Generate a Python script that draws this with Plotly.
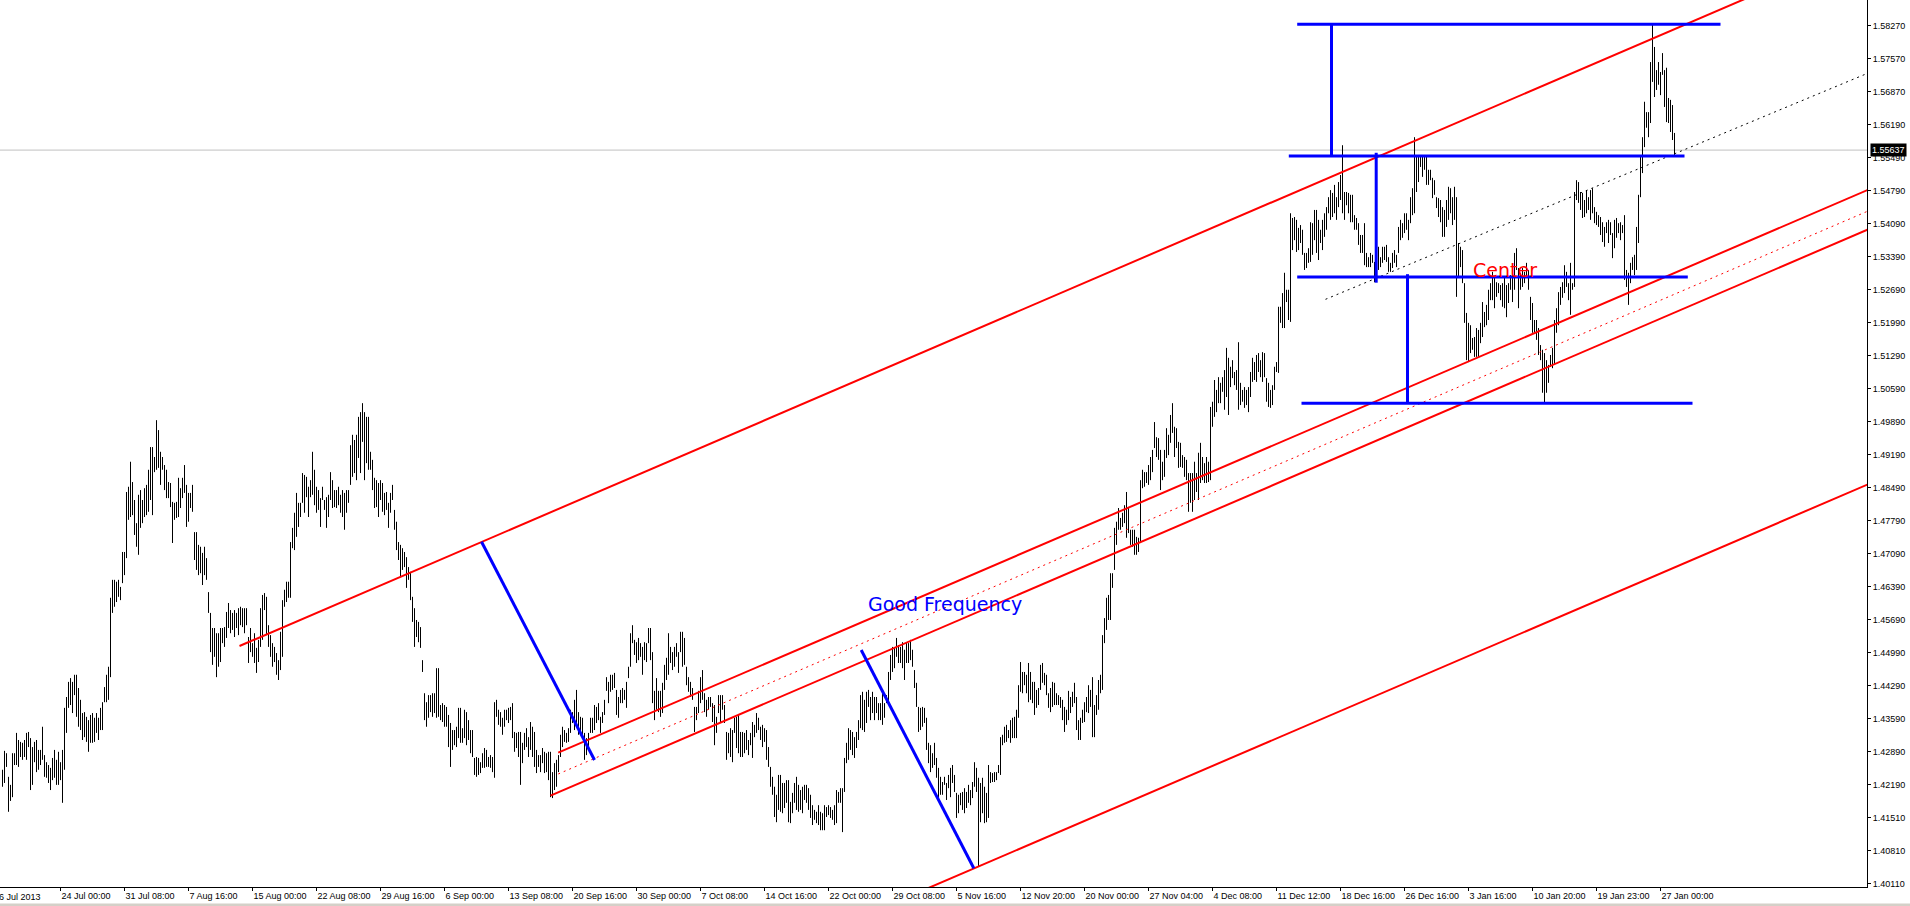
import plotly.graph_objects as go

# ---------------- data (EURUSD-like H4 bars) ----------------
first_bar = 3  # index of the first visible bar (bar 0 = "16 Jul 2013")

highs = [
1.4252,1.4292,1.4287,1.4237,1.4220,1.4287,1.4287,1.4330,1.4315,1.4311,
1.4309,1.4315,1.4330,1.4332,1.4319,1.4300,1.4311,1.4315,1.4294,1.4294,
1.4343,1.4283,1.4268,1.4262,1.4256,1.4277,1.4294,1.4273,1.4290,1.4268,
1.4294,1.4383,1.4406,1.4438,1.4446,1.4438,1.4453,1.4453,1.4425,1.4400,
1.4372,1.4374,1.4364,1.4357,1.4368,1.4372,1.4362,1.4372,1.4362,1.4383,
1.4395,1.4427,1.4453,1.4470,1.4616,1.4654,1.4654,1.4650,1.4654,1.4639,
1.4713,1.4713,1.4840,1.4851,1.4904,1.4861,1.4823,1.4774,1.4834,1.4844,
1.4823,1.4848,1.4855,1.4887,1.4935,1.4935,1.4914,1.4992,1.4971,1.4925,
1.4914,1.4897,1.4887,1.4861,1.4859,1.4819,1.4817,1.4819,1.4870,1.4848,
1.4870,1.4897,1.4855,1.4838,1.4838,1.4855,1.4755,1.4755,1.4728,1.4724,
1.4711,1.4724,1.4700,1.4628,1.4584,1.4552,1.4552,1.4541,1.4541,1.4552,
1.4552,1.4554,1.4586,1.4605,1.4590,1.4584,1.4590,1.4584,1.4594,1.4597,
1.4594,1.4594,1.4594,1.4533,1.4552,1.4520,1.4541,1.4510,1.4527,1.4594,
1.4622,1.4626,1.4618,1.4558,1.4537,1.4520,1.4512,1.4499,1.4484,1.4544,
1.4611,1.4633,1.4650,1.4650,1.4734,1.4764,1.4796,1.4838,1.4817,1.4817,
1.4880,1.4876,1.4872,1.4851,1.4865,1.4925,1.4887,1.4851,1.4844,1.4827,
1.4851,1.4823,1.4829,1.4834,1.4882,1.4865,1.4844,1.4844,1.4851,1.4834,
1.4844,1.4838,1.4844,1.4844,1.4939,1.4961,1.4950,1.4961,1.4999,1.5009,
1.5028,1.5009,1.4999,1.4999,1.4925,1.4908,1.4870,1.4865,1.4859,1.4865,
1.4859,1.4838,1.4840,1.4817,1.4838,1.4855,1.4802,1.4777,1.4734,1.4728,
1.4721,1.4713,1.4702,1.4681,1.4671,1.4618,1.4594,1.4569,1.4565,1.4554,
1.4484,1.4414,1.4395,1.4410,1.4410,1.4414,1.4414,1.4467,1.4467,1.4389,
1.4393,1.4389,1.4385,1.4368,1.4351,1.4336,1.4336,1.4343,1.4383,1.4383,
1.4340,1.4379,1.4374,1.4357,1.4336,1.4336,1.4277,1.4279,1.4277,1.4268,
1.4287,1.4298,1.4294,1.4279,1.4283,1.4279,1.4395,1.4400,1.4379,1.4374,
1.4362,1.4379,1.4379,1.4383,1.4385,1.4393,1.4332,1.4330,1.4332,1.4332,
1.4309,1.4330,1.4340,1.4321,1.4353,1.4343,1.4332,1.4294,1.4283,1.4283,
1.4298,1.4290,1.4287,1.4290,1.4290,1.4247,1.4266,1.4273,1.4283,1.4326,
1.4343,1.4336,1.4330,1.4340,1.4379,1.4374,1.4400,1.4421,1.4374,1.4364,
1.4362,1.4330,1.4319,1.4330,1.4362,1.4362,1.4389,1.4385,1.4393,1.4364,
1.4374,1.4400,1.4448,1.4438,1.4453,1.4453,1.4457,1.4421,1.4406,1.4421,
1.4425,1.4421,1.4438,1.4470,1.4541,1.4558,1.4527,1.4522,1.4531,1.4520,
1.4512,1.4522,1.4520,1.4552,1.4552,1.4501,1.4419,1.4446,1.4419,1.4419,
1.4436,1.4474,1.4489,1.4541,1.4512,1.4501,1.4512,1.4520,1.4501,1.4544,
1.4544,1.4531,1.4470,1.4448,1.4438,1.4425,1.4385,1.4385,1.4419,1.4448,
1.4463,1.4414,1.4400,1.4406,1.4406,1.4393,1.4389,1.4364,1.4410,1.4410,
1.4410,1.4389,1.4332,1.4330,1.4340,1.4336,1.4362,1.4364,1.4368,1.4332,
1.4332,1.4330,1.4336,1.4315,1.4330,1.4353,1.4347,1.4372,1.4362,1.4343,
1.4347,1.4340,1.4336,1.4300,1.4258,1.4237,1.4216,1.4199,1.4241,1.4241,
1.4224,1.4224,1.4230,1.4230,1.4184,1.4203,1.4224,1.4237,1.4220,1.4209,
1.4216,1.4220,1.4220,1.4213,1.4199,1.4177,1.4167,1.4163,1.4177,1.4163,
1.4160,1.4177,1.4173,1.4177,1.4173,1.4167,1.4177,1.4209,1.4205,1.4213,
1.4213,1.4277,1.4309,1.4340,1.4336,1.4332,1.4321,1.4332,1.4357,1.4410,
1.4417,1.4400,1.4417,1.4421,1.4406,1.4417,1.4406,1.4406,1.4393,1.4393,
1.4419,1.4393,1.4410,1.4459,1.4495,1.4512,1.4510,1.4531,1.4516,1.4512,
1.4522,1.4506,1.4522,1.4520,1.4527,1.4506,1.4463,1.4436,1.4385,1.4383,
1.4385,1.4383,1.4362,1.4309,1.4304,1.4287,1.4309,1.4277,1.4256,1.4237,
1.4226,1.4237,1.4224,1.4241,1.4256,1.4262,1.4241,1.4203,1.4199,1.4203,
1.4205,1.4213,1.4205,1.4220,1.4209,1.4226,1.4268,1.4256,1.4235,1.4224,
1.4235,1.4216,1.4203,1.4262,1.4247,1.4245,1.4247,1.4247,1.4262,1.4321,
1.4326,1.4343,1.4347,1.4336,1.4357,1.4362,1.4364,1.4379,1.4431,1.4480,
1.4459,1.4459,1.4453,1.4478,1.4459,1.4438,1.4438,1.4421,1.4425,1.4474,
1.4478,1.4457,1.4453,1.4414,1.4425,1.4438,1.4436,1.4414,1.4410,1.4406,
1.4400,1.4385,1.4379,1.4419,1.4406,1.4417,1.4436,1.4406,1.4357,1.4362,
1.4379,1.4395,1.4406,1.4431,1.4421,1.4448,1.4389,1.4410,1.4442,1.4453,
1.4537,1.4573,1.4616,1.4622,1.4668,1.4668,1.4764,1.4777,1.4806,1.4785,
1.4796,1.4812,1.4840,1.4808,1.4760,1.4760,1.4760,1.4745,1.4743,1.4865,
1.4887,1.4882,1.4882,1.4897,1.4914,1.4929,1.4988,1.4956,1.4954,1.4929,
1.4904,1.4929,1.4975,1.4961,1.5003,1.5028,1.4978,1.4975,1.4946,1.4944,
1.4918,1.4914,1.4908,1.4880,1.4880,1.4880,1.4904,1.4880,1.4923,1.4944,
1.4914,1.4901,1.4914,1.4904,1.5020,1.5031,1.5077,1.5056,1.5083,1.5071,
1.5083,1.5098,1.5145,1.5124,1.5105,1.5119,1.5094,1.5098,1.5157,1.5071,
1.5056,1.5062,1.5056,1.5062,1.5094,1.5124,1.5115,1.5130,1.5134,1.5119,
1.5136,1.5134,1.5081,1.5071,1.5056,1.5066,1.5105,1.5115,1.5232,1.5232,
1.5261,1.5304,1.5268,1.5268,1.5430,1.5420,1.5422,1.5416,1.5399,1.5405,
1.5395,1.5346,1.5346,1.5356,1.5411,1.5409,1.5437,1.5437,1.5416,1.5395,
1.5416,1.5430,1.5443,1.5464,1.5479,1.5473,1.5490,1.5464,1.5496,1.5511,
1.5574,1.5475,1.5475,1.5473,1.5469,1.5469,1.5426,1.5420,1.5409,1.5384,
1.5384,1.5409,1.5346,1.5337,1.5346,1.5342,1.5327,1.5348,1.5359,1.5337,
1.5359,1.5359,1.5363,1.5337,1.5325,1.5346,1.5352,1.5342,1.5401,1.5416,
1.5409,1.5430,1.5430,1.5416,1.5464,1.5483,1.5591,1.5549,1.5549,1.5549,
1.5553,1.5549,1.5549,1.5522,1.5522,1.5505,1.5500,1.5464,1.5462,1.5458,
1.5443,1.5437,1.5458,1.5486,1.5483,1.5464,1.5486,1.5464,1.5367,1.5359,
1.5352,1.5282,1.5219,1.5198,1.5193,1.5166,1.5168,1.5187,1.5183,1.5198,
1.5242,1.5221,1.5236,1.5268,1.5282,1.5306,1.5295,1.5284,1.5282,1.5278,
1.5282,1.5295,1.5278,1.5282,1.5299,1.5295,1.5346,1.5356,1.5314,1.5304,
1.5314,1.5306,1.5325,1.5310,1.5253,1.5240,1.5204,1.5204,1.5187,1.5151,
1.5141,1.5134,1.5119,1.5109,1.5130,1.5145,1.5204,1.5229,1.5263,1.5274,
1.5284,1.5320,1.5306,1.5282,1.5325,1.5282,1.5475,1.5500,1.5496,1.5475,
1.5473,1.5458,1.5479,1.5464,1.5479,1.5483,1.5443,1.5433,1.5426,1.5422,
1.5411,1.5401,1.5411,1.5416,1.5411,1.5388,1.5416,1.5420,1.5409,1.5411,
1.5405,1.5426,1.5310,1.5304,1.5325,1.5337,1.5342,1.5401,1.5469,1.5553,
1.5591,1.5666,1.5644,1.5644,1.5750,1.5829,1.5782,1.5733,1.5750,1.5729,
1.5769,1.5733,1.5738,1.5674,1.5670,1.5659,1.5600,
]

lows = [
1.4216,1.4224,1.4258,1.4163,1.4186,1.4194,1.4262,1.4262,1.4258,1.4279,
1.4273,1.4279,1.4273,1.4300,1.4209,1.4220,1.4268,1.4247,1.4252,1.4262,
1.4273,1.4237,1.4235,1.4224,1.4209,1.4230,1.4235,1.4220,1.4220,1.4230,
1.4182,1.4252,1.4330,1.4383,1.4389,1.4372,1.4410,1.4364,1.4343,1.4336,
1.4315,1.4321,1.4311,1.4290,1.4309,1.4309,1.4311,1.4330,1.4315,1.4336,
1.4336,1.4395,1.4395,1.4400,1.4448,1.4584,1.4597,1.4607,1.4618,1.4611,
1.4647,1.4664,1.4700,1.4781,1.4787,1.4791,1.4749,1.4724,1.4707,1.4764,
1.4774,1.4787,1.4791,1.4798,1.4823,1.4791,1.4882,1.4887,1.4891,1.4855,
1.4887,1.4844,1.4827,1.4827,1.4808,1.4732,1.4781,1.4785,1.4787,1.4806,
1.4827,1.4838,1.4766,1.4777,1.4806,1.4798,1.4696,1.4675,1.4664,1.4668,
1.4643,1.4664,1.4654,1.4584,1.4501,1.4474,1.4491,1.4448,1.4470,1.4480,
1.4520,1.4512,1.4531,1.4552,1.4541,1.4548,1.4533,1.4552,1.4537,1.4558,
1.4554,1.4541,1.4558,1.4478,1.4501,1.4491,1.4478,1.4457,1.4480,1.4512,
1.4527,1.4590,1.4537,1.4512,1.4491,1.4470,1.4480,1.4453,1.4442,1.4463,
1.4491,1.4597,1.4607,1.4616,1.4616,1.4721,1.4717,1.4745,1.4766,1.4787,
1.4817,1.4796,1.4829,1.4787,1.4829,1.4834,1.4812,1.4796,1.4802,1.4766,
1.4823,1.4802,1.4764,1.4787,1.4823,1.4806,1.4808,1.4806,1.4812,1.4796,
1.4787,1.4760,1.4796,1.4817,1.4855,1.4872,1.4880,1.4865,1.4912,1.4880,
1.4946,1.4865,1.4901,1.4887,1.4887,1.4844,1.4806,1.4808,1.4787,1.4823,
1.4798,1.4791,1.4802,1.4764,1.4796,1.4823,1.4760,1.4717,1.4696,1.4660,
1.4675,1.4681,1.4637,1.4654,1.4611,1.4565,1.4512,1.4533,1.4522,1.4510,
1.4459,1.4357,1.4343,1.4362,1.4374,1.4364,1.4372,1.4362,1.4364,1.4357,
1.4353,1.4343,1.4343,1.4300,1.4258,1.4294,1.4304,1.4300,1.4319,1.4309,
1.4309,1.4319,1.4304,1.4315,1.4287,1.4279,1.4241,1.4237,1.4241,1.4245,
1.4256,1.4256,1.4258,1.4258,1.4256,1.4247,1.4235,1.4364,1.4347,1.4343,
1.4326,1.4343,1.4357,1.4351,1.4357,1.4319,1.4290,1.4298,1.4279,1.4220,
1.4266,1.4294,1.4300,1.4279,1.4294,1.4279,1.4258,1.4245,1.4258,1.4247,
1.4266,1.4245,1.4247,1.4230,1.4194,1.4192,1.4209,1.4216,1.4247,1.4279,
1.4300,1.4311,1.4309,1.4311,1.4330,1.4351,1.4336,1.4351,1.4326,1.4330,
1.4319,1.4273,1.4283,1.4294,1.4330,1.4330,1.4336,1.4351,1.4357,1.4330,
1.4351,1.4368,1.4419,1.4393,1.4417,1.4421,1.4425,1.4368,1.4362,1.4393,
1.4393,1.4400,1.4383,1.4446,1.4470,1.4520,1.4495,1.4478,1.4484,1.4491,
1.4453,1.4484,1.4480,1.4520,1.4484,1.4393,1.4357,1.4379,1.4374,1.4364,
1.4372,1.4421,1.4442,1.4453,1.4478,1.4463,1.4470,1.4491,1.4457,1.4501,
1.4470,1.4474,1.4431,1.4417,1.4406,1.4400,1.4332,1.4357,1.4372,1.4393,
1.4400,1.4374,1.4364,1.4379,1.4385,1.4353,1.4304,1.4330,1.4372,1.4351,
1.4379,1.4351,1.4273,1.4287,1.4279,1.4268,1.4330,1.4298,1.4287,1.4279,
1.4279,1.4287,1.4294,1.4283,1.4304,1.4277,1.4321,1.4330,1.4336,1.4315,
1.4300,1.4311,1.4273,1.4258,1.4216,1.4199,1.4152,1.4141,1.4167,1.4163,
1.4160,1.4171,1.4182,1.4141,1.4139,1.4160,1.4182,1.4167,1.4163,1.4167,
1.4160,1.4188,1.4182,1.4167,1.4150,1.4135,1.4146,1.4139,1.4135,1.4124,
1.4124,1.4124,1.4152,1.4156,1.4150,1.4146,1.4135,1.4139,1.4182,1.4182,
1.4120,1.4205,1.4266,1.4273,1.4294,1.4283,1.4277,1.4298,1.4315,1.4340,
1.4336,1.4332,1.4351,1.4385,1.4357,1.4372,1.4357,1.4372,1.4357,1.4357,
1.4347,1.4362,1.4393,1.4395,1.4442,1.4459,1.4467,1.4491,1.4478,1.4478,
1.4467,1.4442,1.4478,1.4478,1.4484,1.4470,1.4425,1.4385,1.4332,1.4336,
1.4343,1.4351,1.4294,1.4266,1.4247,1.4256,1.4262,1.4235,1.4188,1.4199,
1.4199,1.4220,1.4188,1.4213,1.4194,1.4224,1.4205,1.4150,1.4160,1.4177,
1.4167,1.4160,1.4171,1.4182,1.4177,1.4192,1.4216,1.4205,1.4046,1.4141,
1.4160,1.4139,1.4141,1.4150,1.4224,1.4226,1.4226,1.4230,1.4245,1.4241,
1.4304,1.4309,1.4311,1.4319,1.4309,1.4319,1.4319,1.4319,1.4362,1.4417,
1.4414,1.4431,1.4414,1.4395,1.4400,1.4393,1.4368,1.4383,1.4389,1.4421,
1.4436,1.4431,1.4410,1.4383,1.4374,1.4385,1.4389,1.4389,1.4389,1.4383,
1.4357,1.4332,1.4347,1.4357,1.4372,1.4385,1.4393,1.4336,1.4315,1.4315,
1.4351,1.4353,1.4374,1.4372,1.4385,1.4321,1.4321,1.4368,1.4379,1.4414,
1.4421,1.4520,1.4548,1.4569,1.4569,1.4637,1.4675,1.4728,1.4760,1.4760,
1.4766,1.4774,1.4743,1.4753,1.4728,1.4724,1.4707,1.4707,1.4713,1.4732,
1.4848,1.4851,1.4859,1.4855,1.4865,1.4882,1.4933,1.4914,1.4908,1.4844,
1.4865,1.4872,1.4912,1.4918,1.4944,1.4965,1.4914,1.4933,1.4891,1.4893,
1.4891,1.4872,1.4865,1.4798,1.4817,1.4798,1.4823,1.4840,1.4823,1.4859,
1.4865,1.4859,1.4859,1.4861,1.4865,1.4978,1.4999,1.5009,1.5028,1.5028,
1.5052,1.5014,1.5041,1.5003,1.5062,1.5081,1.5066,1.5056,1.5014,1.5024,
1.5031,1.5018,1.5024,1.5009,1.5041,1.5073,1.5077,1.5073,1.5094,1.5083,
1.5073,1.5083,1.5031,1.5020,1.5018,1.5024,1.5056,1.5094,1.5092,1.5198,
1.5187,1.5187,1.5242,1.5204,1.5200,1.5352,1.5373,1.5348,1.5352,1.5367,
1.5342,1.5310,1.5314,1.5325,1.5327,1.5342,1.5373,1.5346,1.5331,1.5367,
1.5352,1.5380,1.5395,1.5430,1.5416,1.5422,1.5430,1.5416,1.5443,1.5458,
1.5430,1.5416,1.5447,1.5430,1.5411,1.5411,1.5395,1.5395,1.5363,1.5346,
1.5346,1.5320,1.5316,1.5316,1.5316,1.5325,1.5284,1.5293,1.5310,1.5316,
1.5325,1.5331,1.5327,1.5306,1.5306,1.5314,1.5325,1.5316,1.5346,1.5373,
1.5378,1.5388,1.5395,1.5373,1.5409,1.5426,1.5430,1.5475,1.5496,1.5528,
1.5507,1.5522,1.5490,1.5490,1.5500,1.5462,1.5469,1.5441,1.5422,1.5411,
1.5380,1.5380,1.5401,1.5416,1.5430,1.5405,1.5416,1.5253,1.5293,1.5316,
1.5282,1.5198,1.5119,1.5115,1.5134,1.5141,1.5126,1.5126,1.5124,1.5155,
1.5168,1.5189,1.5193,1.5204,1.5246,1.5246,1.5229,1.5253,1.5261,1.5246,
1.5232,1.5229,1.5210,1.5240,1.5268,1.5242,1.5268,1.5310,1.5229,1.5268,
1.5274,1.5282,1.5295,1.5268,1.5204,1.5177,1.5177,1.5162,1.5130,1.5119,
1.5050,1.5028,1.5050,1.5071,1.5105,1.5102,1.5109,1.5177,1.5193,1.5236,
1.5251,1.5261,1.5274,1.5246,1.5215,1.5268,1.5274,1.5458,1.5452,1.5437,
1.5420,1.5422,1.5430,1.5437,1.5416,1.5430,1.5409,1.5405,1.5401,1.5384,
1.5369,1.5359,1.5388,1.5367,1.5384,1.5335,1.5356,1.5378,1.5388,1.5373,
1.5388,1.5289,1.5274,1.5236,1.5282,1.5310,1.5299,1.5310,1.5367,1.5464,
1.5515,1.5570,1.5611,1.5591,1.5621,1.5708,1.5676,1.5691,1.5702,1.5680,
1.5723,1.5655,1.5623,1.5621,1.5602,1.5585,1.5553,
]

bid_price = 1.55637

x_tick_bars = [0, 32, 64, 96, 128, 160, 192, 224, 256, 288, 320, 352, 384, 416,
               448, 480, 512, 544, 576, 608, 640, 672, 704, 736, 768, 800, 832]
x_tick_labels = ["16 Jul 2013", "24 Jul 00:00", "31 Jul 08:00", "7 Aug 16:00",
                 "15 Aug 00:00", "22 Aug 08:00", "29 Aug 16:00", "6 Sep 00:00",
                 "13 Sep 08:00", "20 Sep 16:00", "30 Sep 00:00", "7 Oct 08:00",
                 "14 Oct 16:00", "22 Oct 00:00", "29 Oct 08:00", "5 Nov 16:00",
                 "12 Nov 20:00", "20 Nov 00:00", "27 Nov 04:00", "4 Dec 08:00",
                 "11 Dec 12:00", "18 Dec 16:00", "26 Dec 16:00", "3 Jan 16:00",
                 "10 Jan 20:00", "19 Jan 23:00", "27 Jan 00:00"]
y_tick_labels = ["1.40110", "1.40810", "1.41510", "1.42190", "1.42890", "1.43590",
                 "1.44290", "1.44990", "1.45690", "1.46390", "1.47090", "1.47790",
                 "1.48490", "1.49190", "1.49890", "1.50590", "1.51290", "1.51990",
                 "1.52690", "1.53390", "1.54090", "1.54790", "1.55490", "1.56190",
                 "1.56870", "1.57570", "1.58270"]

# drawn objects, anchors as (bar index, price)
red_rays = [
    ((121.5, 1.45139), (752.0, 1.56613)),    # upper channel line
    ((280.85, 1.42881), (935.5, 1.54792)),   # inner channel upper
    ((277.0, 1.41971), (935.5, 1.53953)),    # inner channel lower
    ((440.0, 1.39545), (935.5, 1.48558)),    # lower channel line
]
red_dashed_rays = [((280.85, 1.42430), (935.5, 1.54342))]
black_dotted_rays = [((664.5, 1.52478), (935.5, 1.57262))]
blue_segments = [
    ((242.5, 1.47347), (299.0, 1.42726)),
    ((432.35, 1.45055), (488.65, 1.40434)),
    ((650.35, 1.58300), (862.0, 1.58300)),
    ((667.5, 1.58300), (667.5, 1.55510)),
    ((646.15, 1.55510), (844.0, 1.55510)),
    ((689.85, 1.55580), (689.85, 1.52830)),
    ((650.35, 1.52950), (845.65, 1.52950)),
    ((705.5, 1.53010), (705.5, 1.50277)),
    ((652.5, 1.50277), (848.0, 1.50277)),
]
text_labels = [
    ("Center", 737.4, 1.53101, "#ff0000"),
    ("Good Frequency", 434.9, 1.46026, "#0000ff"),
]

# ---------------- figure ----------------
x_range = [1.75, 935.25]
y_range = [1.40038, 1.58814]

n = min(len(highs), len(lows))
bx, by = [], []
for k in range(n):
    i = first_bar + k
    bx += [i, i, None]
    by += [lows[k], highs[k], None]


def ray_end(p0, p1, x_end):
    (x0, y0), (x1, y1) = p0, p1
    s = (y1 - y0) / (x1 - x0)
    return [x0, x_end], [y0, y0 + s * (x_end - x0)]


def segs(seg_list, ray=False):
    xs, ys = [], []
    for p0, p1 in seg_list:
        if ray:
            sx, sy = ray_end(p0, p1, x_range[1] + 5)
        else:
            sx, sy = [p0[0], p1[0]], [p0[1], p1[1]]
        xs += sx + [None]
        ys += sy + [None]
    return xs, ys


fig = go.Figure()
fig.add_trace(go.Scatter(x=[x_range[0], x_range[1]], y=[bid_price, bid_price], mode="lines",
                         line=dict(color="#c0c0c0", width=1), hoverinfo="skip"))
fig.add_trace(go.Scatter(x=bx, y=by, mode="lines", line=dict(color="#000000", width=1),
                         hoverinfo="skip"))
xs, ys = segs(red_rays, ray=True)
fig.add_trace(go.Scatter(x=xs, y=ys, mode="lines", line=dict(color="#ff0000", width=2), hoverinfo="skip"))
xs, ys = segs(red_dashed_rays, ray=True)
fig.add_trace(go.Scatter(x=xs, y=ys, mode="lines",
                         line=dict(color="#ff0000", width=1, dash="2px,4px"), hoverinfo="skip"))
xs, ys = segs(black_dotted_rays, ray=True)
fig.add_trace(go.Scatter(x=xs, y=ys, mode="lines",
                         line=dict(color="#000000", width=1, dash="2px,4px"), hoverinfo="skip"))
xs, ys = segs(blue_segments)
fig.add_trace(go.Scatter(x=xs, y=ys, mode="lines", line=dict(color="#0000ff", width=3), hoverinfo="skip"))

annotations = []
for txt, xi, yp, col in text_labels:
    annotations.append(dict(text=txt, x=xi, y=yp, xref="x", yref="y", xanchor="left",
                            yanchor="middle", showarrow=False,
                            font=dict(family="DejaVu Sans", size=19, color=col)))
# current price box on the price scale
annotations.append(dict(text="1.55637", x=1, xref="paper", xanchor="left", xshift=3,
                        y=bid_price, yref="y", yanchor="middle", showarrow=False,
                        bgcolor="#000000", borderpad=1,
                        font=dict(family="Liberation Sans", size=9, color="#ffffff")))
# first date label, cut at the left edge
annotations.append(dict(text=x_tick_labels[0],
                        x=(x_tick_bars[0] - x_range[0]) / (x_range[1] - x_range[0]),
                        xref="paper", xanchor="left", xshift=-5, y=0, yref="paper",
                        yanchor="top", yshift=-3, showarrow=False,
                        font=dict(family="Liberation Sans", size=9, color="#000000")))

y_step = (float(y_tick_labels[-1]) - float(y_tick_labels[0])) / (len(y_tick_labels) - 1)
y_tick_vals = [float(y_tick_labels[0]) + k * y_step for k in range(len(y_tick_labels))]

fig.update_layout(
    width=1910, height=906,
    margin=dict(l=0, r=43, t=0, b=19, pad=0),
    paper_bgcolor="#ffffff", plot_bgcolor="#ffffff",
    showlegend=False,
    font=dict(family="Liberation Sans", size=9, color="#000000"),
    annotations=annotations,
    shapes=[dict(type="rect", xref="paper", yref="paper", x0=-0.01, x1=1.03,
                 y0=-16.5 / 887, y1=-25 / 887, fillcolor="#d4d0c8", line=dict(width=0),
                 layer="above")],
)
fig.update_xaxes(range=x_range, showgrid=False, zeroline=False, showline=True,
                 linecolor="#000000", linewidth=1, ticks="outside", ticklen=3,
                 tickcolor="#000000", tickwidth=1,
                 tickvals=x_tick_bars[1:], ticktext=x_tick_labels[1:],
                 ticklabelposition="outside right",
                 tickfont=dict(family="Liberation Sans", size=9, color="#000000"))
fig.update_yaxes(range=y_range, side="right", showgrid=False, zeroline=False, showline=True,
                 linecolor="#000000", linewidth=1, ticks="outside", ticklen=3,
                 tickcolor="#000000", tickwidth=1,
                 tickvals=y_tick_vals, ticktext=y_tick_labels,
                 tickfont=dict(family="Liberation Sans", size=9, color="#000000"))

fig.write_html("out.html", config={"displayModeBar": False},
               post_script="document.body.style.margin='0';document.body.style.overflow='hidden';")
